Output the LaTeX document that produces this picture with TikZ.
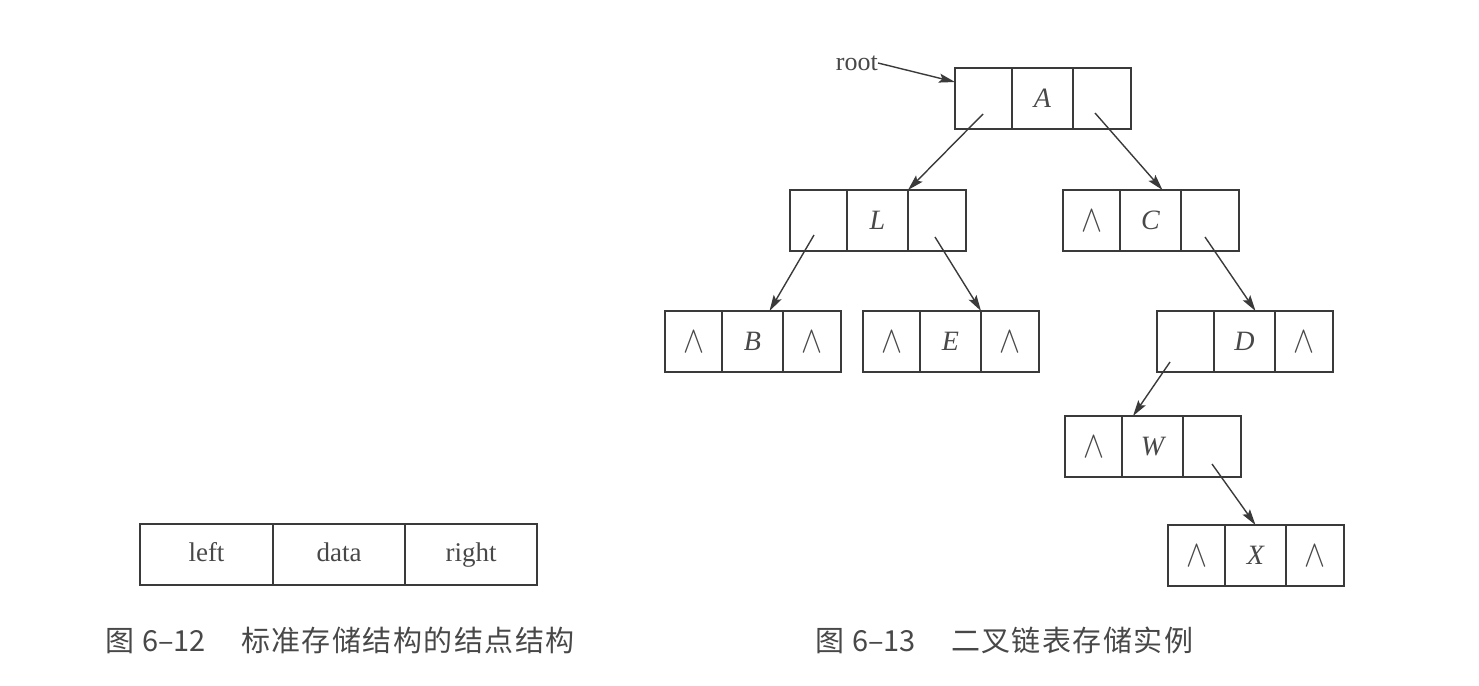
\documentclass[tikz,border=0pt]{standalone}
\usepackage{fontspec}
\usepackage{graphicx}
\setmainfont{Liberation Serif}
\newfontfamily\cjk{Noto Sans CJK SC}
\newfontfamily\cjkw[LetterSpace=5]{Noto Sans CJK SC}
\usetikzlibrary{arrows.meta,calc}
\definecolor{ink}{HTML}{3A3A3A}
\definecolor{txt}{HTML}{484848}
\newcommand{\nil}{\resizebox{21pt}{21pt}{$\wedge$}}
\newcommand{\mkcellnode}[6]{%
  \node[cellbox, minimum width=57pt] (#1l) at (#2,#3) {#4};
  \node[cellbox, minimum width=61pt] (#1m) at (#1l.north east) {#5};
  \node[cellbox, minimum width=58pt] (#1r) at (#1m.north east) {#6};
}
\tikzset{
  cellbox/.style={draw=ink, line width=2.8pt, minimum height=61pt, inner sep=0pt,
    outer sep=0pt, anchor=north west, text=txt,
    font=\fontsize{28pt}{30pt}\selectfont\itshape},
  legbox/.style={draw=ink, line width=2.8pt, minimum height=61pt, inner sep=0pt,
    outer sep=0pt, anchor=north west, text=txt, text height=19pt, text depth=6pt,
    font=\fontsize{27pt}{32pt}\selectfont},
  ptr/.style={draw=ink, line width=1.4pt, -{Stealth[length=16pt,width=9pt,inset=3pt]}},
  caption/.style={anchor=west, inner sep=0pt, text=txt}
}
\begin{document}
\begin{tikzpicture}[x=1pt,y=-1pt]
\useasboundingbox (0,0) rectangle (1479,685);
% legend structure
\node[legbox, minimum width=133pt] (gl) at (140,524) {left};
\node[legbox, minimum width=132pt] (gm) at (gl.north east) {data};
\node[legbox, minimum width=132pt] (gr) at (gm.north east) {right};
% tree nodes
\mkcellnode{A}{955}{68}{}{A}{}
\mkcellnode{L}{790}{190}{}{L}{}
\mkcellnode{C}{1063}{190}{\nil}{C}{}
\mkcellnode{B}{665}{311}{\nil}{B}{\nil}
\mkcellnode{E}{863}{311}{\nil}{E}{\nil}
\mkcellnode{D}{1157}{311}{}{D}{\nil}
\mkcellnode{W}{1065}{416}{\nil}{W}{}
\mkcellnode{X}{1168}{525}{\nil}{X}{\nil}
% root pointer
\node[anchor=east, inner sep=0pt, text=txt, font=\fontsize{26pt}{30pt}\selectfont] (root) at (878,63) {root};
\draw[ptr] (root.east) -- ($(Al.north west)+(0,14)$);
% pointer starts
\coordinate (sA1) at (983,114);
\coordinate (sA2) at (1095,113);
\coordinate (sL1) at (814,235);
\coordinate (sL2) at (935,237);
\coordinate (sC2) at (1205,237);
\coordinate (sD1) at (1170,362);
\coordinate (sW2) at (1212,464);
\draw[ptr] (sA1) -- (Lm.north east);
\draw[ptr] (sA2) -- ($(Cm.north)+(12,0)$);
\draw[ptr] (sL1) -- ($(Bm.north)+(17,0)$);
\draw[ptr] (sL2) -- (Em.north east);
\draw[ptr] (sC2) -- ($(Dm.north)+(11,0)$);
\draw[ptr] (sD1) -- ($(Wm.north west)+(11,0)$);
\draw[ptr] (sW2) -- (Xm.north);
% captions
\node[caption] (cap1) at (105,640) {\fontsize{29pt}{32pt}\selectfont\cjk 图\hspace{8pt}6–12\hspace{35pt}\cjkw 标准存储结构的结点结构};
\node[caption] (cap2) at (815,640) {\fontsize{29pt}{32pt}\selectfont\cjk 图\hspace{8pt}6–13\hspace{35pt}\cjkw 二叉链表存储实例};
\end{tikzpicture}
\end{document}
